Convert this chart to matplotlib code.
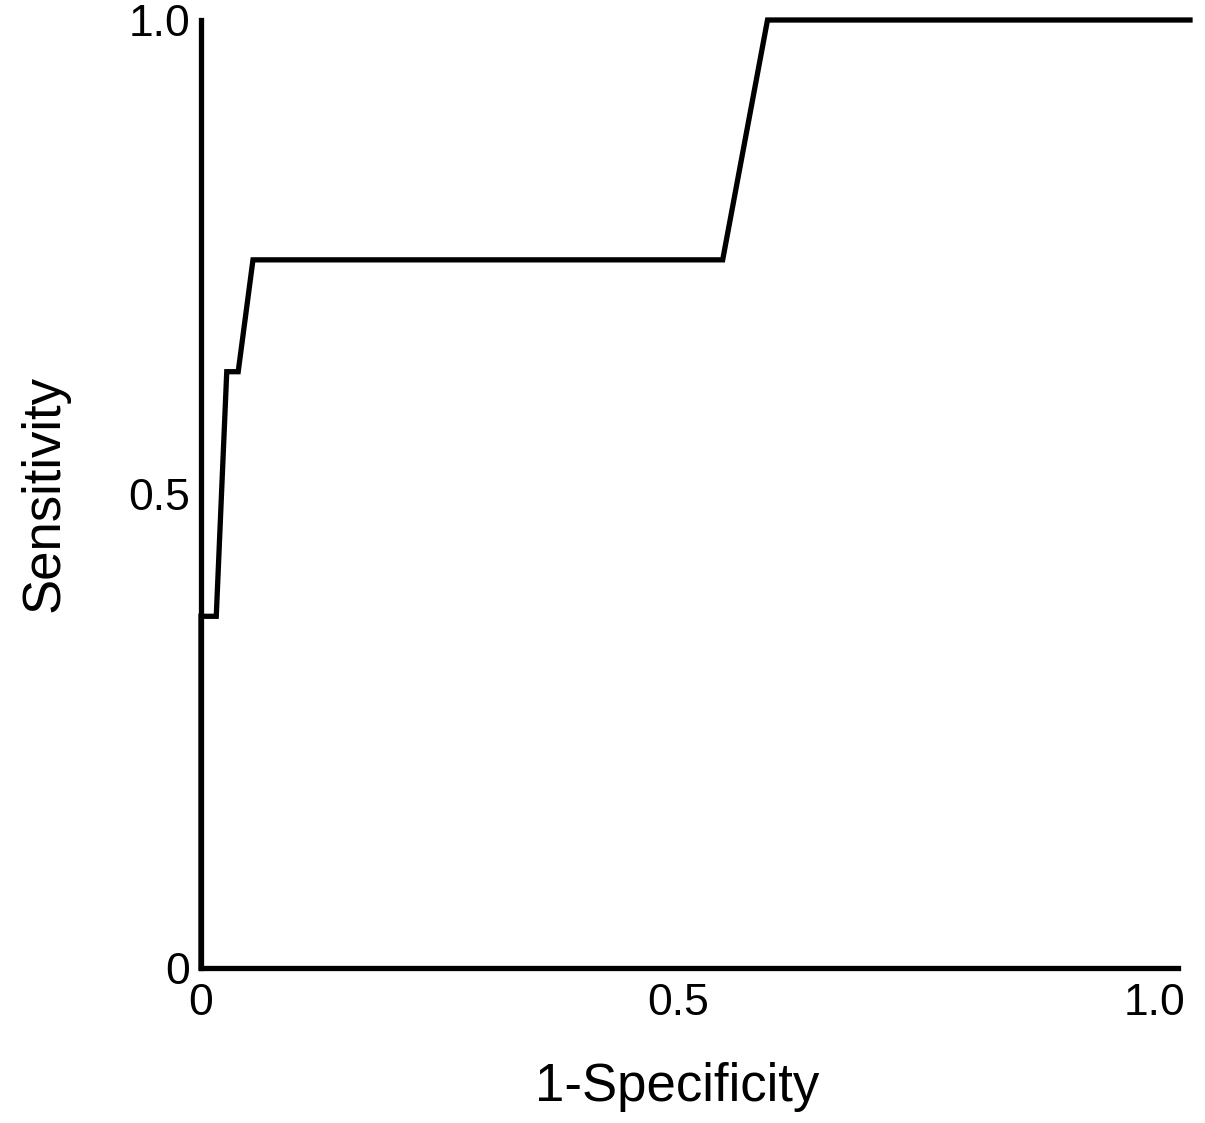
import numpy as np
import matplotlib.pyplot as plt

plt.rcParams['font.family'] = ['Liberation Sans', 'DejaVu Sans']

# ROC curve points
fpr = [0.0, 0.0, 0.016, 0.027, 0.039, 0.0545, 0.547, 0.594, 1.037]
tpr = [0.0, 0.371, 0.371, 0.629, 0.629, 0.747, 0.747, 1.0, 1.0]

xticks = [0, 0.5, 1.0]
xticklabels = ['0', '0.5', '1.0']
yticks = [0, 0.5, 1.0]
yticklabels = ['0', '0.5', '1.0']

fig = plt.figure(figsize=(12.05, 11.23), dpi=100)
ax = fig.add_axes([201/1205, 155/1123, 989/1205, 948/1123])

ax.plot(fpr, tpr, color='black', lw=3.8, solid_joinstyle='miter', clip_on=False)

ax.set_xlim(0, 1.037)
ax.set_ylim(0, 1)
for s in ['top', 'right']:
    ax.spines[s].set_visible(False)
for s in ['left', 'bottom']:
    ax.spines[s].set_linewidth(3.8)
    ax.spines[s].set_capstyle('projecting')
ax.spines['bottom'].set_bounds(0, 1.024)

ax.set_xticks(xticks)
ax.set_xticklabels(xticklabels)
ax.set_yticks(yticks)
ax.set_yticklabels(yticklabels)
ax.tick_params(axis='both', length=0, labelsize=32)
ax.tick_params(axis='x', pad=11)
ax.tick_params(axis='y', pad=8)

ax.set_xlabel('1-Specificity', fontsize=38, labelpad=27)
ax.xaxis.label.set_x(0.481)
ax.set_ylabel('Sensitivity', fontsize=38, labelpad=42)

fig.savefig('out.png', dpi=100)
